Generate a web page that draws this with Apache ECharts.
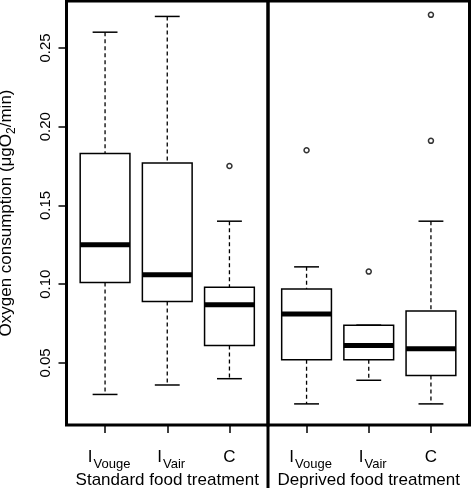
<!DOCTYPE html>
<html><head><meta charset="utf-8">
<script src="https://cdn.jsdelivr.net/npm/echarts@6/dist/echarts.min.js"></script>
<style>html,body{margin:0;padding:0;background:#fff}#c{width:472px;height:488px}</style>
</head><body><div id="c"></div>
<script>
// ---- data ----
const groupPositions = [1, 2, 3];
const tickMain = ['I', 'I', 'C'];
const tickSub = ['Vouge', 'Vair', ''];
const panelTitles = ['Standard food treatment', 'Deprived food treatment'];
const yTicks = [0.05, 0.10, 0.15, 0.20, 0.25];

// Standard food treatment
const stdLower  = [0.030, 0.036, 0.040];
const stdQ1     = [0.101, 0.089, 0.061];
const stdMedian = [0.125, 0.106, 0.087];
const stdQ3     = [0.183, 0.177, 0.098];
const stdUpper  = [0.260, 0.270, 0.140];
const stdOutlierGroup = [3];
const stdOutlierValue = [0.175];

// Deprived food treatment
const dprLower  = [0.024, 0.039, 0.024];
const dprQ1     = [0.052, 0.052, 0.042];
const dprMedian = [0.081, 0.061, 0.059];
const dprQ3     = [0.097, 0.074, 0.083];
const dprUpper  = [0.111, 0.074, 0.140];
const dprOutlierGroup = [1, 2, 3, 3];
const dprOutlierValue = [0.185, 0.108, 0.271, 0.191];

// ---- chart ----
const FONT = 'Liberation Sans, Arial, Helvetica, sans-serif';
const Y_MIN = 0.0106, Y_MAX = 0.2798;

function boxData(lo, q1, med, q3, hi) {
  return groupPositions.map((p, i) => [p, lo[i], q1[i], med[i], q3[i], hi[i]]);
}
function outlierData(g, v) { return g.map((p, i) => [p, v[i]]); }

function renderBox(params, api) {
  const x = api.value(0);
  const lo = api.value(1), q1 = api.value(2), med = api.value(3), q3 = api.value(4), hi = api.value(5);
  const hw = 0.4, sw = 0.2;
  const tl = api.coord([x - hw, q3]);
  const br = api.coord([x + hw, q1]);
  const mL = api.coord([x - hw, med]);
  const mR = api.coord([x + hw, med]);
  const cHi = api.coord([x, hi]);
  const cQ3 = api.coord([x, q3]);
  const cQ1 = api.coord([x, q1]);
  const cLo = api.coord([x, lo]);
  const sHiL = api.coord([x - sw, hi]), sHiR = api.coord([x + sw, hi]);
  const sLoL = api.coord([x - sw, lo]), sLoR = api.coord([x + sw, lo]);
  const dash = { stroke: '#000', lineWidth: 1.3, lineDash: [4, 3] };
  const solid = { stroke: '#000', lineWidth: 1.5 };
  return {
    type: 'group',
    children: [
      { type: 'line', shape: { x1: cHi[0], y1: cHi[1], x2: cQ3[0], y2: cQ3[1] }, style: dash },
      { type: 'line', shape: { x1: cQ1[0], y1: cQ1[1], x2: cLo[0], y2: cLo[1] }, style: dash },
      { type: 'line', shape: { x1: sHiL[0], y1: sHiL[1], x2: sHiR[0], y2: sHiR[1] }, style: solid },
      { type: 'line', shape: { x1: sLoL[0], y1: sLoL[1], x2: sLoR[0], y2: sLoR[1] }, style: solid },
      { type: 'rect', shape: { x: tl[0], y: tl[1], width: br[0] - tl[0], height: br[1] - tl[1] },
        style: { fill: '#fff', stroke: '#000', lineWidth: 1.5 } },
      { type: 'line', shape: { x1: mL[0], y1: mL[1], x2: mR[0], y2: mR[1] },
        style: { stroke: '#000', lineWidth: 5 } }
    ]
  };
}

function xAxisFor(i) {
  return {
    gridIndex: i, type: 'value', min: 0.38, max: 3.62,
    axisLine: { show: false }, splitLine: { show: false },
    axisTick: { show: true, customValues: groupPositions, length: 8, lineStyle: { color: '#000', width: 1.5 } },
    axisLabel: {
      customValues: groupPositions, margin: 22,
      formatter: v => {
        const k = Math.round(v) - 1;
        return tickSub[k] ? '{j|' + tickMain[k] + '}{s|' + tickSub[k] + '}' : '{i|' + tickMain[k] + '}';
      },
      rich: {
        i: { fontSize: 17, fontFamily: FONT, color: '#000', lineHeight: 20, verticalAlign: 'middle' },
        j: { fontSize: 17, fontFamily: FONT, color: '#000', lineHeight: 20, verticalAlign: 'middle', padding: [0, 1, 0, 8] },
        s: { fontSize: 13, fontFamily: FONT, color: '#000', lineHeight: 20, verticalAlign: 'middle', padding: [14, 0, 0, 0] }
      }
    },
    name: panelTitles[i], nameLocation: 'middle', nameGap: 47, nameMoveOverlap: false,
    nameTextStyle: { fontSize: 17, fontFamily: FONT, color: '#000' }
  };
}

const option = {
  backgroundColor: '#fff',
  animation: false,
  grid: [
    { left: 66.5, top: 1, width: 201.5, height: 424, show: true, borderColor: '#000', borderWidth: 3,
      backgroundColor: 'transparent', outerBoundsMode: 'none', containLabel: false },
    { left: 268, top: 1, width: 201.5, height: 424, show: true, borderColor: '#000', borderWidth: 3,
      backgroundColor: 'transparent', outerBoundsMode: 'none', containLabel: false }
  ],
  xAxis: [xAxisFor(0), xAxisFor(1)],
  yAxis: [
    {
      gridIndex: 0, type: 'value', min: Y_MIN, max: Y_MAX,
      axisLine: { show: false }, splitLine: { show: false },
      axisTick: { show: true, customValues: yTicks, length: 8, lineStyle: { color: '#000', width: 1.5 } },
      axisLabel: { customValues: yTicks, rotate: 90, margin: 13, fontSize: 15, fontFamily: FONT, color: '#000',
        formatter: v => v.toFixed(2) },
      name: '{n|Oxygen consumption (μgO}{sub|2}{n|/min)}',
      nameLocation: 'middle', nameRotate: 90, nameGap: 50, nameMoveOverlap: false,
      nameTextStyle: {
        rich: {
          n: { fontSize: 17, fontFamily: FONT, color: '#000', lineHeight: 20, verticalAlign: 'middle' },
          sub: { fontSize: 12, fontFamily: FONT, color: '#000', lineHeight: 20, verticalAlign: 'middle', padding: [10, 0, 0, 0] }
        }
      }
    },
    { gridIndex: 1, type: 'value', min: Y_MIN, max: Y_MAX, show: false, splitLine: { show: false } }
  ],
  graphic: [
    { type: 'line', shape: { x1: 268, y1: 425, x2: 268, y2: 488 }, style: { stroke: '#000', lineWidth: 3 } }
  ],
  series: [
    { type: 'custom', xAxisIndex: 0, yAxisIndex: 0, renderItem: renderBox,
      encode: { x: 0, y: [1, 2, 3, 4, 5] }, data: boxData(stdLower, stdQ1, stdMedian, stdQ3, stdUpper) },
    { type: 'custom', xAxisIndex: 1, yAxisIndex: 1, renderItem: renderBox,
      encode: { x: 0, y: [1, 2, 3, 4, 5] }, data: boxData(dprLower, dprQ1, dprMedian, dprQ3, dprUpper) },
    { type: 'scatter', xAxisIndex: 0, yAxisIndex: 0, symbol: 'circle', symbolSize: 5,
      itemStyle: { color: '#fff', borderColor: '#000', borderWidth: 1.5 },
      data: outlierData(stdOutlierGroup, stdOutlierValue) },
    { type: 'scatter', xAxisIndex: 1, yAxisIndex: 1, symbol: 'circle', symbolSize: 5,
      itemStyle: { color: '#fff', borderColor: '#000', borderWidth: 1.5 },
      data: outlierData(dprOutlierGroup, dprOutlierValue) }
  ]
};

const chart = echarts.init(document.getElementById('c'), null, { renderer: 'canvas' });
chart.setOption(option);
</script>
</body></html>
